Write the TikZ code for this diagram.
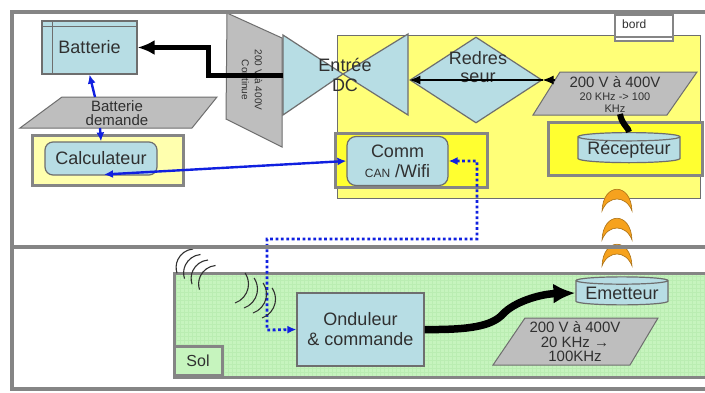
\documentclass[tikz,border=0pt]{standalone}
\usepackage{fontspec}
\setmainfont{Liberation Sans}
\usepackage{tikz}
\usetikzlibrary{arrows.meta,positioning,calc,shapes.geometric}
\definecolor{cadregray}{HTML}{858585}
\definecolor{bordgray}{HTML}{6E6E6E}
\definecolor{bleuclair}{HTML}{B7DDE4}
\definecolor{grisclair}{HTML}{BEBEBE}
\definecolor{jaunebord}{HTML}{FFFF78}
\definecolor{jaunevif}{HTML}{FFFF30}
\definecolor{jaunepale}{HTML}{FFFFAE}
\definecolor{vertsol}{HTML}{C6F4BE}
\definecolor{vertgrille}{HTML}{BAEDB2}
\definecolor{bleulien}{HTML}{1020E0}
\definecolor{orangeonde}{HTML}{F6A21E}
\definecolor{encre}{HTML}{303030}

\begin{document}
\begin{tikzpicture}[x=1pt,y=1pt,
  bloc/.style={draw=bordgray,line width=1.2pt,fill=bleuclair,text=encre,align=center,inner sep=0pt,font=\fontsize{18}{20}\selectfont},
  groupe/.style={draw=cadregray,line width=3pt},
  forme/.style={draw=bordgray,line width=1pt,fill=grisclair},
  texte/.style={text=encre,align=center,inner sep=0pt},
  lien/.style={draw=bleulien,line width=2.4pt,-{Latex[length=9pt,width=8pt]}},
  pointille/.style={draw=bleulien,line width=2.8pt,dash pattern=on 2.8pt off 2.6pt,{Latex[length=9pt,width=8pt]}-{Latex[length=9pt,width=8pt]}},
  puissance/.style={line width=5pt,-{Latex[length=17pt,width=15pt]}},
  onde/.style={draw=encre,line width=1.1pt},
  croissant/.style={fill=orangeonde,draw=orangeonde!70!black,line width=0.6pt}
]
\useasboundingbox (0,0) rectangle (705,-392);
\fill[white] (0,0) rectangle (705,-392);

\fill[vertsol] (174,-273) rectangle (712,-377);
\draw[vertgrille,line width=0.25pt,step=4] (174,-273) grid (705,-377);
\draw[groupe] (174,-273) rectangle (712,-377);
\node[groupe,fill=vertsol,text=encre,minimum width=48,minimum height=29,font=\fontsize{16}{18}\selectfont] (sol) at (198,-361) {Sol};

\draw[bordgray,line width=1pt,fill=jaunebord] (337,-35) rectangle (700,-198);
\draw[groupe,line width=2.5pt,fill=white] (615,-15) rectangle (673,-41);
\draw[cadregray,line width=1.5pt] (615,-37) -- (673,-37);
\node[texte,anchor=west,font=\fontsize{12}{14}\selectfont] (bord) at (622,-24) {bord};

\draw[groupe,fill=jaunevif] (548,-122) rectangle (702,-175);
\draw[groupe,fill=jaunevif] (335,-133) rectangle (487,-187);
\draw[groupe,fill=jaunepale] (32,-135) rectangle (183,-185);

\draw[forme] (227,-13) -- (282,-38) -- (282,-147) -- (226,-119) -- cycle;
\node[texte,rotate=-90,font=\fontsize{10}{13}\selectfont] (cont) at (252,-80) {200 V à 400V\\Continue};

\draw[bloc] (283,-35) -- (283,-115) -- (343,-74) -- cycle;
\draw[bloc] (408,-34) -- (408,-115) -- (343,-74) -- cycle;
\node[texte,font=\fontsize{18}{20}\selectfont] (entree) at (345,-75) {Entrée\\DC};
\coordinate (dcin) at (283,-75);

\node[bloc,diamond,minimum width=132,minimum height=86] (redr) at (476,-80) {};
\node[texte,font=\fontsize{18}{18}\selectfont] (redrtxt) at (478,-67) {Redres\\seur};

\draw[forme] (560,-72) -- (697,-72) -- (667,-115) -- (533,-115) -- cycle;
\node[texte,font=\fontsize{11}{11.5}\selectfont] (p1) at (615,-94) {{\fontsize{15}{16}\selectfont 200 V à 400V}\\[2pt]20 KHz -> 100\\KHz};
\coordinate (p1in) at (555,-80);
\coordinate (p1out) at (620,-114);
\draw[line width=1.2pt,-{Latex[length=11pt,width=9pt]}] (p1in) -- (redr.east);
\draw[line width=1.2pt,-{Latex[length=11pt,width=9pt]}] (redr.east) -- (redr.west);

\node[bloc,cylinder,shape border rotate=90,aspect=0.1,minimum width=102,minimum height=26] (rec) at (629,-150) {Récepteur};
\draw[line width=6pt] (p1out) .. controls (622,-125) and (629,-128) .. (rec.north);

\node[bloc,rounded corners=9pt,minimum width=101,minimum height=49] (comm) at (397.5,-161) {Comm\\{\fontsize{12}{12}\selectfont CAN} /Wifi};
\node[bloc,rounded corners=8pt,minimum width=112,minimum height=33] (calc) at (101,-158.5) {Calculateur};

\node[bloc,minimum width=95,minimum height=53] (batt) at (89.5,-47.5) {Batterie};
\draw[bordgray,line width=1.2pt] ([xshift=11]batt.north west) -- ([xshift=11]batt.south west);
\draw[bordgray,line width=1.2pt] ([yshift=-6]batt.north west) -- ([yshift=-6]batt.north east);

\draw[forme] (62,-97) -- (217,-97) -- (192,-128) -- (20,-128) -- cycle;
\node[texte,font=\fontsize{15}{14}\selectfont] (bdem) at (117,-113) {Batterie\\demande};
\coordinate (bdhaut) at (95,-97);
\coordinate (bdbas) at (100,-128);
\coordinate (calclien) at (104,-174.5);
\draw[lien] (bdhaut) -- (batt.south);
\draw[lien] (bdbas) -- (calc.north);
\draw[lien,{Latex[length=9pt,width=8pt]}-{Latex[length=9pt,width=8pt]}] (calclien) -- (comm.west);

\draw[puissance] (dcin) -- (208,-75) |- (batt.east);

\node[bloc,minimum width=127,minimum height=73] (ond) at (360.5,-329.5) {Onduleur\\\& commande};
\coordinate (coude1) at (477,-239);
\coordinate (coude2) at (267,-330);
\draw[pointille] (comm.east) -| (coude1) -| (coude2) -- (ond.west);

\node[bloc,cylinder,shape border rotate=90,aspect=0.1,minimum width=92,minimum height=28] (emet) at (622,-293) {Emetteur};
\draw[line width=7.5pt,-{Latex[length=22pt,width=20pt]}] (ond.east) .. controls (470,-330) and (492,-326) .. (503,-314) .. controls (514,-302) and (540,-294) .. (emet.west);

\draw[forme] (525,-318) -- (658,-318) -- (630,-365) -- (493,-365) -- cycle;
\node[texte,font=\fontsize{15}{14.5}\selectfont] (p2) at (575,-342) {200 V à 400V\\20 KHz →\\100KHz};

\foreach \i in {0,...,3}
  \draw[onde] (193+7.5*\i,-249-5.5*\i) arc[start angle=95,end angle=198,radius=18.5];
\foreach \i in {0,...,3}
  \draw[onde] (235+9*\i,-303-5*\i) arc[start angle=-71,end angle=34,radius=20];

\foreach \cy in {189,218,244}
  \draw[croissant] (602,-\cy-22) .. controls (603,-\cy+7) and (631,-\cy+7) .. (632,-\cy-22) .. controls (626,-\cy-6) and (608,-\cy-6) .. cycle;

\draw[cadregray,line width=4.5pt] (720,-12) -- (12,-12) -- (12,-389) -- (720,-389);
\draw[cadregray,line width=4pt] (12,-247) -- (720,-247);
\end{tikzpicture}
\end{document}
